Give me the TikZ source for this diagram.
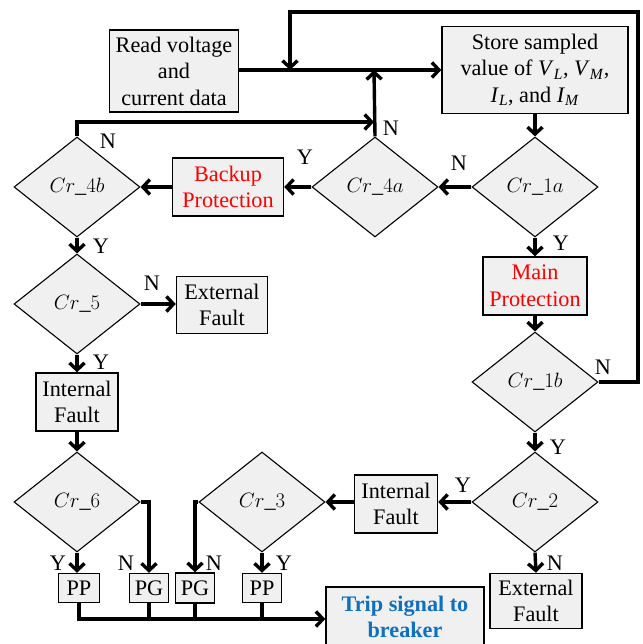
\documentclass[tikz,border=0pt]{standalone}
\usepackage{fontspec}
\setmainfont{Liberation Serif}
\usetikzlibrary{shapes.geometric,arrows.meta}
\definecolor{boxgray}{HTML}{F0F0F0}
\definecolor{tripblue}{HTML}{1070C0}
\newcommand{\fs}{\fontsize{22.2}{26.5}\selectfont}
\newcommand{\vsb}[2]{\textit{#1}\textsubscript{\textit{#2}}}
\tikzset{
  box/.style={draw, line width=1.5pt, fill=boxgray, align=center, inner sep=0pt, font=\fs},
  dia/.style={diamond, draw, line width=1.1pt, fill=boxgray, minimum width=126pt, minimum height=100pt, inner sep=0pt, font=\fs},
  conn/.style={line width=3.4pt, -{Straight Barb[length=7pt,width=15pt]}},
  plain/.style={line width=3.4pt},
  lbl/.style={font=\fs, inner sep=0pt}
}
\begin{document}
\begin{tikzpicture}[x=1pt,y=-1pt]
\useasboundingbox (0,0) rectangle (642,644);
% boxes
\node[box, minimum width=129pt, minimum height=82pt] (read) at (174,71) {Read voltage\\and\\current data};
\node[box, minimum width=186pt, minimum height=87pt] (store) at (535,70) {Store sampled\\value of \vsb{V}{L}, \vsb{V}{M},\\\vsb{I}{L}, and \vsb{I}{M}};
\node[dia] (c1a) at (535,187) {$Cr\_1a$};
\node[dia] (c4a) at (375,187) {$Cr\_4a$};
\node[dia] (c4b) at (77,187) {$Cr\_4b$};
\node[box, minimum width=111pt, minimum height=58pt, text=red] (backup) at (228,187) {Backup\\Protection};
\node[box, minimum width=104pt, minimum height=58pt, text=red] (main) at (535,286) {Main\\Protection};
\node[dia] (c1b) at (535,382) {$Cr\_1b$};
\node[dia] (c5) at (77,304) {$Cr\_5$};
\node[box, minimum width=91pt, minimum height=57pt] (ext1) at (222,305) {External\\Fault};
\node[box, minimum width=82pt, minimum height=58pt] (int1) at (77,402) {Internal\\Fault};
\node[dia] (c6) at (77,502) {$Cr\_6$};
\node[dia] (c3) at (262,502) {$Cr\_3$};
\node[dia] (c2) at (535,502) {$Cr\_2$};
\node[box, minimum width=83pt, minimum height=58pt] (int2) at (396,504) {Internal\\Fault};
\node[box, minimum width=92pt, minimum height=55pt] (ext2) at (536,601) {External\\Fault};
\node[box, minimum width=41pt, minimum height=29pt] (pp1) at (79,588) {PP};
\node[box, minimum width=39pt, minimum height=29pt] (pg1) at (149,588) {PG};
\node[box, minimum width=39pt, minimum height=30pt] (pg2) at (195,588) {PG};
\node[box, minimum width=39pt, minimum height=29pt] (pp2) at (262,588) {PP};
\node[box, minimum width=158pt, minimum height=60pt, text=tripblue, font=\fs\bfseries] (trip) at (405,617) {Trip signal to\\breaker};
% coordinates
\coordinate (mainline) at (374,70);
\coordinate (fbtop) at (290,70);
\coordinate (nline) at (374,122);
\coordinate (bus) at (79,619);
% connectors
\draw[conn] (read.east |- mainline) -- (store.west |- mainline);
\draw[conn] (c1b.east) -| (638,12) -| (fbtop);
\draw[conn] (c4a.north) -- (mainline);
\draw[conn] (c4b.north) |- (nline);
\draw[conn] (store.south) -- (c1a.north);
\draw[conn] (c1a.west) -- (c4a.east);
\draw[conn] (c4a.west) -- (backup.east);
\draw[conn] (backup.west) -- (c4b.east);
\draw[conn] (c4b.south) -- (c5.north);
\draw[conn] (c1a.south) -- (main.north);
\draw[conn] (main.south) -- (c1b.north);
\draw[conn] (c5.east) -- (ext1.west |- c5.east);
\draw[conn] (c5.south) -- (int1.north);
\draw[conn] (int1.south) -- (c6.north);
\draw[conn] (c1b.south) -- (c2.north);
\draw[conn] (c2.west) -- (int2.east |- c2.west);
\draw[conn] (int2.west |- c3.east) -- (c3.east);
\draw[conn] (c2.south) -- (ext2.north);
\draw[conn] (c6.south) -- (c6.south |- pp1.north);
\draw[conn] (c6.east) -| (pg1.north);
\draw[conn] (c3.west) -| (pg2.north);
\draw[conn] (c3.south) -- (pp2.north);
\draw[conn] (pp1.south) -- (bus) -- (trip.west |- bus);
\draw[plain] (pg1.south) -- (pg1.south |- bus);
\draw[plain] (pg2.south) -- (pg2.south |- bus);
\draw[plain] (pp2.south) -- (pp2.south |- bus);
% labels
\node[lbl] (l1) at (391,128) {N};
\node[lbl] (l2) at (108,141) {N};
\node[lbl] (l3) at (305,157) {Y};
\node[lbl] (l4) at (459,163) {N};
\node[lbl] (l5) at (101,246) {Y};
\node[lbl] (l6) at (561,243) {Y};
\node[lbl] (l7) at (152,283) {N};
\node[lbl] (l8) at (101,362) {Y};
\node[lbl] (l9) at (603,367) {N};
\node[lbl] (l10) at (558,447) {Y};
\node[lbl] (l11) at (463,485) {Y};
\node[lbl] (l12) at (58,563) {Y};
\node[lbl] (l13) at (126,563) {N};
\node[lbl] (l14) at (214,563) {N};
\node[lbl] (l15) at (284,563) {Y};
\node[lbl] (l16) at (555,563) {N};
\end{tikzpicture}
\end{document}
